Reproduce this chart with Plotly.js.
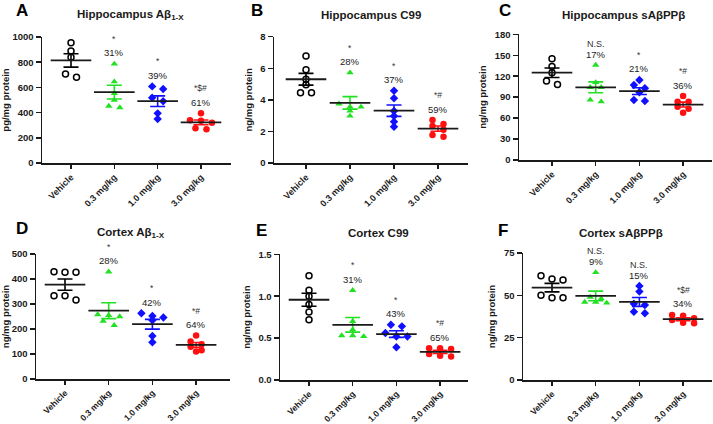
<!DOCTYPE html>
<html>
<head>
<meta charset="utf-8">
<script src="https://cdn.plot.ly/plotly-3.0.1.min.js"></script>
<style>html,body{margin:0;padding:0;background:#fff;}#chart{width:713px;height:424px;}</style>
</head>
<body>
<div id="chart"></div>
<script>
// ---------- data ----------
const categories = ['Vehicle', '0.3 mg/kg', '1.0 mg/kg', '3.0 mg/kg'];

// A: Hippocampus Abeta1-X (pg/mg protein)
const hipAbVehicle = [955, 889, 840, 706, 680];
const hipAb03 = [786, 645, 553, 500, 452, 440];
const hipAb10 = [608, 587, 518, 490, 394, 349];
const hipAb30 = [395, 340, 335, 320, 275, 268];
const hipAbPct = ['', '31%', '39%', '61%'];
const hipAbSig = ['', '*', '*', '*$#'];

// B: Hippocampus C99 (ng/mg protein)
const hipC99Vehicle = [6.78, 5.9, 5.3, 4.95, 4.45, 4.45];
const hipC9903 = [5.72, 3.75, 3.55, 3.55, 3.3, 2.98];
const hipC9910 = [4.58, 4.1, 3.3, 2.98, 2.62, 2.3];
const hipC9930 = [2.72, 2.47, 2.35, 2.1, 1.77, 1.67];
const hipC99Pct = ['', '28%', '37%', '59%'];
const hipC99Sig = ['', '*', '*', '*#'];

// C: Hippocampus sAbetaPPbeta (ng/mg protein)
const hipSappVehicle = [145, 134, 125, 113, 108];
const hipSapp03 = [136, 111, 104, 104, 86, 83.5];
const hipSapp10 = [114.6, 107.4, 102.7, 97, 86, 84.5];
const hipSapp30 = [91.6, 83.5, 83.5, 76.4, 73.5, 67.8];
const hipSappPct = ['', '17%', '21%', '36%'];
const hipSappSig = ['', 'N.S.', '*', '*#'];

// D: Cortex Abeta1-X (ng/mg protein)
const ctxAbVehicle = [429, 427, 427, 333, 333, 316];
const ctxAb03 = [429, 258, 255, 250, 232, 215];
const ctxAb10 = [263, 252, 246, 235, 172, 147];
const ctxAb30 = [174, 150, 139, 129, 115, 110];
const ctxAbPct = ['', '28%', '42%', '64%'];
const ctxAbSig = ['', '*', '*', '*#'];

// E: Cortex C99 (ng/mg protein)
const ctxC99Vehicle = [1.245, 1.07, 1.0, 0.9, 0.81, 0.72];
const ctxC9903 = [1.07, 0.70, 0.60, 0.53, 0.53, 0.52];
const ctxC9910 = [0.66, 0.64, 0.56, 0.52, 0.52, 0.39];
const ctxC9930 = [0.38, 0.38, 0.37, 0.31, 0.29, 0.28];
const ctxC99Pct = ['', '31%', '43%', '65%'];
const ctxC99Sig = ['', '*', '*', '*#'];

// F: Cortex sAbetaPPbeta (ng/mg protein)
const ctxSappVehicle = [61.5, 59.7, 59, 50, 48.5, 48.5];
const ctxSapp03 = [63.5, 49, 48, 46, 46, 45.5];
const ctxSapp10 = [55.5, 52.2, 45, 44.3, 40.3, 39.4];
const ctxSapp30 = [38.4, 38, 36.4, 35.4, 33.8, 33.5];
const ctxSappPct = ['', '9%', '15%', '34%'];
const ctxSappSig = ['', 'N.S.', 'N.S.', '*$#'];

// ---------- layout / style ----------
const W = 713, H = 424;
const FONT = 'Liberation Sans, Arial, sans-serif';
const INK = '#1a1a1a';
const groupStyle = [
  {symbol: 'circle-open', size: 6, color: '#000000', lw: 1.5, sem: '#000000'},
  {symbol: 'triangle-up', size: 6.5, color: '#22e022', lw: 0, sem: '#22e022'},
  {symbol: 'diamond', size: 6.5, color: '#1010ff', lw: 0, sem: '#1010ff'},
  {symbol: 'circle', size: 6.5, color: '#ff1010', lw: 0, sem: '#ff1010'}
];

const panels = [
  {groups: [hipAbVehicle, hipAb03, hipAb10, hipAb30], pct: hipAbPct, sig: hipAbSig,
   title: 'Hippocampus Aβ<sub>1-X</sub>', ytitle: 'pg/mg protein', letter: 'A',
   box: {l: 42, r: 231, t: 37, b: 163}, firstCat: 71, catStep: 43.33, yrange: [0, 1000], dtick: 200, fmt: '',
   titlePos: [130, 15], letterPos: [14, 10], xfont: 9},
  {groups: [hipC99Vehicle, hipC9903, hipC9910, hipC9930], pct: hipC99Pct, sig: hipC99Sig,
   title: 'Hippocampus C99', ytitle: 'ng/mg protein', letter: 'B',
   box: {l: 274, r: 468, t: 36.7, b: 163}, firstCat: 306, catStep: 44, yrange: [0, 8], dtick: 2, fmt: '',
   titlePos: [371, 15], letterPos: [249, 10], xfont: 9},
  {groups: [hipSappVehicle, hipSapp03, hipSapp10, hipSapp30], pct: hipSappPct, sig: hipSappSig,
   title: 'Hippocampus sAβPPβ', ytitle: 'ng/mg protein', letter: 'C',
   box: {l: 519, r: 712, t: 34.3, b: 160}, firstCat: 552, catStep: 43.7, yrange: [0, 180], dtick: 30, fmt: '',
   titlePos: [623, 15], letterPos: [497, 10], xfont: 9},
  {groups: [ctxAbVehicle, ctxAb03, ctxAb10, ctxAb30], pct: ctxAbPct, sig: ctxAbSig,
   title: 'Cortex Aβ<sub>1-X</sub>', ytitle: 'ng/mg protein', letter: 'D',
   box: {l: 36, r: 230, t: 254, b: 379}, firstCat: 65, catStep: 43.7, yrange: [0, 500], dtick: 100, fmt: '',
   titlePos: [131, 233], letterPos: [14, 228], xfont: 8.6},
  {groups: [ctxC99Vehicle, ctxC9903, ctxC9910, ctxC9930], pct: ctxC99Pct, sig: ctxC99Sig,
   title: 'Cortex C99', ytitle: 'ng/mg protein', letter: 'E',
   box: {l: 280, r: 468, t: 254.3, b: 380}, firstCat: 309, catStep: 43.7, yrange: [0, 1.5], dtick: 0.5, fmt: '.1f',
   titlePos: [378, 233], letterPos: [254, 230], xfont: 8.6},
  {groups: [ctxSappVehicle, ctxSapp03, ctxSapp10, ctxSapp30], pct: ctxSappPct, sig: ctxSappSig,
   title: 'Cortex sAβPPβ', ytitle: 'ng/mg protein', letter: 'F',
   box: {l: 523, r: 712, t: 253, b: 380}, firstCat: 552, catStep: 43.7, yrange: [0, 75], dtick: 25, fmt: '',
   titlePos: [621, 233], letterPos: [496, 230], xfont: 8.6}
];

function mean(a) { return a.reduce((s, v) => s + v, 0) / a.length; }
function sem(a) {
  const m = mean(a);
  const v = a.reduce((s, x) => s + (x - m) * (x - m), 0) / (a.length - 1);
  return Math.sqrt(v / a.length);
}
// GraphPad-like scatter: values that fall in the same row are spread symmetrically
function spread(vals, pxPerUnit, spacingCat, rowPx) {
  const idx = vals.map((v, i) => i).sort((a, b) => vals[b] - vals[a]);
  const off = new Array(vals.length).fill(0);
  let i = 0;
  while (i < idx.length) {
    let j = i + 1;
    while (j < idx.length && (vals[idx[i]] - vals[idx[j]]) * pxPerUnit < rowPx) j++;
    const n = j - i;
    for (let k = 0; k < n; k++) off[idx[i + k]] = (k - (n - 1) / 2) * spacingCat;
    i = j;
  }
  return off;
}

const traces = [];
const annotations = [];
const layout = {
  width: W, height: H,
  margin: {l: 0, r: 0, t: 0, b: 0},
  paper_bgcolor: '#ffffff', plot_bgcolor: 'rgba(0,0,0,0)',
  showlegend: false, hovermode: false,
  font: {family: FONT, color: INK}
};

panels.forEach((p, pi) => {
  const n = pi + 1;
  const xk = n === 1 ? 'x' : 'x' + n;
  const yk = n === 1 ? 'y' : 'y' + n;
  const xa = n === 1 ? 'xaxis' : 'xaxis' + n;
  const ya = n === 1 ? 'yaxis' : 'yaxis' + n;
  const xr = [(p.box.l - p.firstCat) / p.catStep, (p.box.r - p.firstCat) / p.catStep];
  const pxPerUnit = (p.box.b - p.box.t) / (p.yrange[1] - p.yrange[0]);
  const spacingCat = 11 / p.catStep;

  layout[xa] = {
    domain: [p.box.l / W, p.box.r / W], range: xr, anchor: yk,
    showline: true, linecolor: INK, linewidth: 1.5,
    ticks: 'outside', ticklen: 4, tickwidth: 1.5, tickcolor: INK,
    tickvals: [0, 1, 2, 3], ticktext: categories, tickangle: -45,
    tickfont: {family: FONT, size: p.xfont, color: INK, weight: 'bold'},
    showgrid: false, zeroline: false, fixedrange: true
  };
  layout[ya] = {
    domain: [(H - p.box.b) / H, (H - p.box.t) / H], range: p.yrange, anchor: xk,
    showline: true, linecolor: INK, linewidth: 1.5,
    ticks: 'outside', ticklen: 5, tickwidth: 1.5, tickcolor: INK,
    dtick: p.dtick, tick0: 0, tickformat: p.fmt,
    tickfont: {family: FONT, size: 9.5, color: INK, weight: 'bold'},
    title: {text: p.ytitle, font: {family: FONT, size: 9.5, color: INK, weight: 'bold'}, standoff: 6},
    showgrid: false, zeroline: false, fixedrange: true
  };

  p.groups.forEach((vals, gi) => {
    const st = groupStyle[gi];
    const off = spread(vals, pxPerUnit, spacingCat, 4.5);
    traces.push({
      type: 'scatter', mode: 'markers', xaxis: xk, yaxis: yk,
      x: vals.map((v, i) => gi + off[i]), y: vals,
      marker: {symbol: st.symbol, size: st.size, color: st.color,
               line: {width: st.lw, color: st.color}},
      cliponaxis: false
    });
    const m = mean(vals), s = sem(vals);
    traces.push({
      type: 'scatter', mode: 'markers', xaxis: xk, yaxis: yk,
      x: [gi], y: [m],
      marker: {symbol: 'line-ew', size: 29, color: INK, line: {width: 1.8, color: INK}},
      error_y: {type: 'data', array: [s], visible: true, color: st.sem, thickness: 1.6, width: 7.5},
      cliponaxis: false
    });
    const top = Math.max.apply(null, vals);
    if (p.pct[gi]) {
      annotations.push({xref: xk, yref: yk, x: gi, y: top, yshift: 11, text: p.pct[gi],
        showarrow: false, xanchor: 'center', yanchor: 'middle',
        font: {family: FONT, size: 9.5, color: '#222'}});
    }
    if (p.sig[gi]) {
      const isNS = p.sig[gi] === 'N.S.';
      annotations.push({xref: xk, yref: yk, x: gi, y: top, yshift: isNS ? 21 : 25, text: p.sig[gi],
        showarrow: false, xanchor: 'center', yanchor: 'middle',
        font: {family: FONT, size: isNS ? 9 : 8.5, color: '#333'}});
    }
  });

  annotations.push({xref: 'paper', yref: 'paper', x: p.titlePos[0] / W, y: 1 - p.titlePos[1] / H,
    text: p.title, showarrow: false, xanchor: 'center', yanchor: 'middle',
    font: {family: FONT, size: 11.5, color: INK, weight: 'bold'}});
  annotations.push({xref: 'paper', yref: 'paper', x: p.letterPos[0] / W, y: 1 - p.letterPos[1] / H,
    text: p.letter, showarrow: false, xanchor: 'left', yanchor: 'middle',
    font: {family: FONT, size: 17, color: '#000', weight: 'bold'}});
});
layout.annotations = annotations;

Plotly.newPlot('chart', traces, layout, {staticPlot: true, displayModeBar: false});
</script>
</body>
</html>
